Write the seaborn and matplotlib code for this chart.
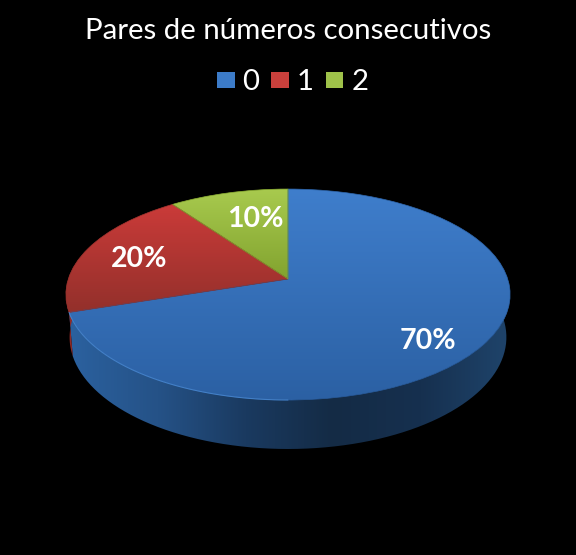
# -*- coding: utf-8 -*-
# 3D-looking pie, drawn from ax.pie wedges pushed through a perspective projection
import numpy as np
import matplotlib
matplotlib.use("Agg")
import matplotlib.pyplot as plt
import seaborn as sns
from matplotlib.colors import LinearSegmentedColormap
from matplotlib.patches import PathPatch, Patch
from matplotlib.path import Path

# ===================== data =====================
TITLE = "Pares de números consecutivos"
CATEGORIES = ["0", "1", "2"]
SHARES = [70, 20, 10]

# top face gradient (top, bottom) and side gradient (left ... right)
TOP_COLORS = [("#3f7ecc", "#2b60a3"), ("#cb3b39", "#93302b"), ("#a8ca4e", "#82a32f")]
SIDE_COLORS = [
    ["#2b619f", "#255287", "#1a3a60", "#142b45", "#16304f", "#1f446b"],
    ["#8f2b28", "#7a2422"],
    ["#6f8a2a", "#5d7423"],
]
LEGEND_COLORS = ["#3c7bc8", "#c9403c", "#9fc24a"]

# ===================== geometry (pixels, origin at the pie apex) =====================
W, H = 576, 555
APEX_X, APEX_Y = 288, 279
RADIUS_X, RADIUS_Y = 219.7, 103.2
TILT = 0.147
DEPTH = 41.8
DEPTH_SHRINK = 0.0004

sns.set_theme(style="dark", rc={"figure.facecolor": "black", "axes.facecolor": "black"})
plt.rcParams["font.family"] = ["Lato", "DejaVu Sans"]


def project(xy, depth=0.0):
    xy = np.asarray(xy, dtype=float)
    denom = 1 + TILT * xy[..., 1]
    x = RADIUS_X * xy[..., 0] / denom * (1 - DEPTH_SHRINK * depth)
    y = (RADIUS_Y * xy[..., 1] - depth) / denom
    return np.stack([x, y], axis=-1)


def arc(theta1, theta2, n=120):
    t = np.radians(np.linspace(theta1, theta2, n))
    return np.column_stack([np.cos(t), np.sin(t)])


def gradient_fill(ax, path, colors, vertical, zorder):
    # image clipped by the path, so the fill fades like the original
    cmap = LinearSegmentedColormap.from_list("g", colors)
    x0, y0 = path.vertices.min(axis=0)
    x1, y1 = path.vertices.max(axis=0)
    ramp = np.linspace(0, 1, 256)
    ramp = ramp[:, None] if vertical else ramp[None, :]
    im = ax.imshow(ramp, cmap=cmap, extent=(x0, x1, y0, y1), origin="upper",
                   aspect="auto", zorder=zorder, interpolation="bilinear")
    im.set_clip_path(PathPatch(path, transform=ax.transData))


fig = plt.figure(figsize=(W / 100, H / 100), dpi=100)
ax = fig.add_axes([0, 0, 1, 1])

wedges, _, autotexts = ax.pie(
    SHARES, startangle=90, counterclock=False, radius=1,
    autopct="%d%%", pctdistance=0.75,
    textprops=dict(color="white", fontsize=20.5, fontweight="bold"),
)

# side walls first, top faces over them
for wedge, side in zip(wedges, SIDE_COLORS):
    wedge.set_visible(False)
    rim = arc(wedge.theta1, wedge.theta2)
    outline = np.vstack([project(rim), project(rim[::-1], DEPTH)])
    side_path = Path(np.vstack([outline, outline[:1]]), closed=True)
    gradient_fill(ax, side_path, side, False, 1)

for wedge, colors in zip(wedges, TOP_COLORS):
    p = wedge.get_path()
    face = Path(project(p.vertices), p.codes)
    gradient_fill(ax, face, colors, True, 2)
    # same colour hairline closes the seams between faces
    ax.add_patch(PathPatch(face, fill=False, edgecolor=colors[1], lw=0.5, zorder=2.1))

# light rim on the front-left of the blue slice
rim_pts = project(arc(wedges[0].theta1, wedges[0].theta1 + 72))
ax.plot(rim_pts[:, 0], rim_pts[:, 1], color="#4a8ad4", lw=0.8, alpha=0.8, zorder=2.2)

# percentage labels follow the same projection
nudges = [(-3, -13), (3, -3), (13, -7)]
for txt, nudge in zip(autotexts, nudges):
    px, py = project(txt.get_position())
    txt.set_position((px + nudge[0], py + nudge[1]))
    txt.set_zorder(3)

ax.set_aspect("auto")
ax.set_xlim(-APEX_X, W - APEX_X)
ax.set_ylim(APEX_Y - H, APEX_Y)
ax.axis("off")

fig.text(0.5, 1 - 31 / H, TITLE, color="white", fontsize=21.2, ha="center", va="center")

handles = [Patch(facecolor=c, edgecolor="none") for c in LEGEND_COLORS]
leg = fig.legend(handles, CATEGORIES, ncol=3, loc="center", bbox_to_anchor=(0.508, 1 - 82.5 / H),
                 frameon=False, fontsize=21.2, labelcolor="white",
                 handlelength=0.6, handleheight=0.5, handletextpad=0.27, columnspacing=0.4)

fig.savefig("out.png", dpi=100, facecolor="black")
